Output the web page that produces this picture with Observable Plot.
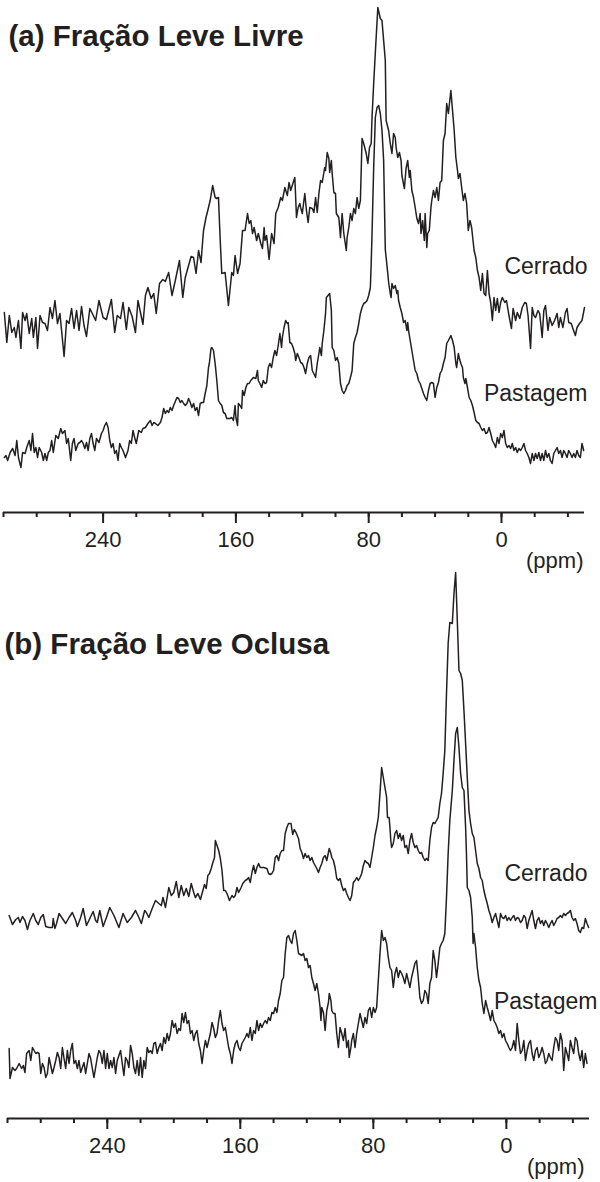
<!DOCTYPE html>
<html>
<head>
<meta charset="utf-8">
<script src="https://cdn.jsdelivr.net/npm/d3@7"></script>
<script src="https://cdn.jsdelivr.net/npm/@observablehq/plot@0.6"></script>
<style>
  html, body { margin: 0; padding: 0; background: #fff; }
  #chart { width: 600px; }
  #chart svg { display: block; }
</style>
</head>
<body>
<div id="chart"></div>
<script>
// ---- Data: [chemical shift (ppm), stacked intensity (a.u.)] ----
const aCerrado = [[299.5,200],[298,170],[296.5,197],[295,180],[293.5,185],[292.5,175],[291,192],[289.5,164],[288.5,200],[287,192],[286,199],[284.5,179],[283,194],[282,175],[280.5,195],[279.5,164],[278,197],[276.5,190],[275,189],[273.5,182],[272,205],[270.5,194],[269,212],[267.5,189],[266,199],[263.5,156],[262,192],[260.5,189],[259,204],[257.5,184],[256,202],[254.5,182],[253,206],[251.5,187],[250,176],[248,204],[246.5,199],[244.5,192],[242.5,212],[240,195],[238,193],[235,213],[233,180],[231.5,197],[229.5,194],[228,210],[226,183],[224.5,205],[222.5,196],[220.5,180],[219,212],[217.5,200],[216,188],[214.5,217],[213,225],[211,214],[209.5,219],[208,199],[206,229],[204,233],[202.5,231],[200.5,240],[198.5,217],[196.5,232],[194,252],[192,215],[190.5,235],[188.5,247],[187,256],[185.5,255],[184,239],[182.5,262],[181,250],[180,272],[179.5,282],[178,295],[176.5,305],[175.5,312],[174,327],[172.5,315],[171.5,314],[170.5,315],[169.5,274],[168.5,239],[166.5,240],[164.5,207],[162.5,240],[161.5,237],[160.5,257],[159,239],[157.5,249],[156,282],[154.5,282],[153,299],[152,289],[151,292],[150,279],[149,285],[147.5,272],[146.5,279],[145,269],[144,264],[143,285],[142.5,272],[141.5,277],[140,253],[138.5,279],[137,269],[136,299],[134.5,305],[133,315],[132,312],[130.5,325],[129,317],[128,330],[127,322],[125.5,330],[124.5,335],[123.5,295],[122.5,305],[121.5,309],[121,305],[120,299],[118.5,319],[117.5,302],[116.5,290],[115.5,305],[114,304],[113,300],[112,315],[111,300],[110,319],[109,332],[108,330],[106.5,345],[106,342],[105,360],[104,354],[103.5,340],[102.5,352],[102,339],[101,320],[100,319],[99.5,299],[98,295],[97,275],[96,299],[95,279],[93.5,262],[93,275],[92,285],[91,299],[90,292],[89,304],[88,299],[87,315],[86,304],[85,312],[84,374],[83,369],[81.5,359],[80.5,349],[79.5,365],[78.5,369],[78,395],[77,429],[76,460],[74.5,505],[73,494],[72,492],[71,472],[70,452],[69.5,392],[68,382],[67,369],[66,359],[65,379],[64,375],[63.5,365],[62.5,355],[61.5,360],[60.5,352],[60,337],[58.5,324],[57.5,344],[56.5,352],[55.5,335],[55,342],[54,322],[53,315],[52,305],[51,294],[50,289],[49,299],[48.5,279],[47.5,292],[46.5,272],[46,299],[45,265],[44.5,279],[43.5,282],[42.5,305],[42,312],[41,322],[40,315],[39,325],[38,312],[37,330],[36,332],[35,372],[34,379],[33,409],[32,399],[30.5,422],[29.5,402],[28.5,382],[27.5,355],[26.5,342],[26,334],[25,339],[24,325],[23,312],[22,319],[21,309],[20,282],[19,292],[18,285],[16.5,262],[15.5,255],[14.5,242],[13.5,235],[12.5,222],[11.5,239],[10.5,219],[9.5,217],[8.5,242],[7.5,219],[6.5,210],[5.5,192],[4.5,215],[3.5,202],[2.5,214],[1.5,200],[0.5,210],[-0.5,215],[-2,210],[-3,212],[-4.5,197],[-6,184],[-7,204],[-8.5,192],[-9.5,200],[-11,194],[-12.5,205],[-14,210],[-15,209],[-16,197],[-17.5,164],[-18.5,205],[-19.5,197],[-20.5,195],[-22,202],[-23,199],[-24.5,175],[-25.5,202],[-26.5,207],[-28,182],[-29,195],[-30.5,187],[-32,192],[-33.5,199],[-34.5,185],[-35.5,195],[-37,185],[-38.5,200],[-39.5,204],[-40.5,190],[-42,189],[-43,184],[-44.5,177],[-45.5,185],[-47,189],[-48.5,192],[-50,205]];

const aPastagem = [[299.5,55],[298.5,57],[297.5,52],[296,60],[294.5,64],[293,57],[292,72],[291,55],[289.5,45],[288.5,60],[287,59],[286,65],[284.5,72],[283.5,62],[282.5,79],[281.5,60],[280.5,65],[279.5,55],[278.5,65],[277,60],[276,52],[275,59],[274,52],[273,60],[272,62],[271,72],[270,60],[268.5,77],[267,74],[265.5,84],[264.5,79],[263,82],[262,69],[261,74],[259.5,52],[258.5,69],[257.5,74],[256.5,62],[255,69],[254,70],[253,72],[252,69],[251,64],[250,70],[249,62],[248,74],[247,79],[246,69],[245,62],[244,74],[242.5,70],[241,79],[240,82],[239,87],[238,90],[237,85],[236,72],[235,65],[234,69],[233,59],[232,62],[231,52],[230,69],[229,65],[228,62],[226.5,55],[225,62],[224,72],[223,69],[222,82],[221,75],[220,69],[218.5,82],[217,80],[216,84],[214.5,85],[213,89],[211.5,92],[210.5,87],[209.5,90],[208.5,89],[207,87],[205.5,90],[204.5,95],[203.5,104],[202.5,99],[201.5,102],[200.5,100],[199.5,105],[198.5,102],[197.5,107],[195.5,115],[194.5,114],[193.5,110],[192.5,112],[191.5,109],[190.5,107],[189.5,109],[188.5,114],[187.5,110],[186.5,105],[185.5,109],[184.5,102],[183.5,105],[182.5,97],[181.5,109],[180.5,110],[179.5,110],[178.5,119],[177.5,127],[176.5,145],[176,149],[175,164],[174.5,165],[173.5,162],[172.5,149],[171.5,132],[170.5,112],[169.5,109],[168.5,107],[167.5,100],[166.5,99],[165.5,94],[163.5,94],[162.5,95],[161.5,92],[160.5,107],[160,95],[159,87],[158.5,109],[157.5,107],[156.5,104],[156,122],[155,117],[154,125],[153,129],[152,129],[151,132],[149.5,135],[148,134],[147,142],[146.5,132],[145.5,129],[144.5,125],[143.5,132],[142.5,129],[141.5,130],[140.5,145],[139.5,149],[138.5,145],[137.5,155],[136.5,162],[135.5,157],[134.5,167],[133.5,179],[132.5,165],[132,175],[131,185],[130,192],[129,189],[128.5,190],[127.5,170],[126.5,169],[125.5,165],[124.5,159],[124,152],[123,159],[122,155],[121,150],[120,149],[119,145],[118,139],[117,149],[116,155],[115,157],[114,142],[112.5,137],[112,135],[111,149],[110,159],[109.5,165],[108.5,157],[108,169],[107,182],[106,199],[105.5,215],[104.5,217],[103.5,219],[102.5,202],[102,165],[101,162],[100,152],[99,155],[98,149],[97,129],[96,122],[95,119],[94,122],[93,127],[92,129],[91,135],[90,142],[89,169],[88,175],[87,180],[86,189],[85,199],[84,205],[83,209],[82,210],[81,212],[80,217],[79,225],[78.5,249],[78,278],[77,345],[76,395],[75,405],[74,407],[73,399],[72,382],[71,352],[70,263],[69.5,255],[68.5,239],[68,230],[67,219],[66.5,215],[66,229],[65,224],[64,227],[63,219],[62.5,222],[62,212],[61,205],[60,199],[59,190],[58,192],[57,182],[56.5,190],[56,182],[55,172],[54,162],[53,152],[52,142],[51,139],[50,132],[49,129],[48,124],[47,119],[46,115],[45,112],[44,122],[43,129],[42,130],[41,129],[40,115],[39,125],[38,130],[37,139],[36,142],[35,149],[34,155],[33,169],[32,172],[30.5,177],[29.5,172],[28.5,165],[27.5,149],[27,145],[26,159],[25.5,155],[24.5,149],[23.5,145],[23,135],[22,129],[21.5,134],[20.5,125],[19.5,115],[18.5,112],[17.5,107],[16.5,100],[15.5,92],[14.5,90],[13.5,89],[12.5,85],[11.5,82],[10.5,84],[9.5,79],[8.5,80],[7.5,85],[6.5,79],[5.5,72],[4.5,69],[3.5,65],[2.5,75],[1.5,69],[0.5,79],[-0.5,75],[-1.5,82],[-2.5,69],[-3.5,65],[-4.5,67],[-5.5,64],[-6.5,69],[-7.5,62],[-8.5,65],[-9.5,60],[-10.5,64],[-11.5,62],[-12.5,65],[-13.5,69],[-14.5,62],[-15.5,59],[-16.5,55],[-17.5,49],[-18.5,59],[-19.5,52],[-20.5,59],[-21.5,54],[-22.5,60],[-23.5,52],[-24.5,59],[-25.5,52],[-26.5,62],[-27.5,55],[-28.5,59],[-29.5,52],[-30.5,49],[-31.5,59],[-32.5,62],[-33.5,65],[-34.5,59],[-35.5,62],[-36.5,55],[-37.5,62],[-38.5,59],[-39.5,55],[-40.5,62],[-41.5,59],[-42.5,55],[-43.5,59],[-44.5,55],[-45.5,62],[-46.5,57],[-47.5,55],[-48.5,69],[-49.5,62]];

const bCerrado = [[299,203],[297,194],[295,199],[293.5,201],[292.5,196],[291,202],[289.5,198],[288,189],[286.5,198],[284.5,205],[283,198],[281.5,194],[280,201],[278.5,204],[277,192],[275,191],[273,191],[272.5,200],[271.5,190],[270.5,195],[269,205],[267,200],[265,195],[263,201],[261,206],[259,198],[258,192],[256,201],[254.5,210],[252.5,193],[250.5,200],[248.5,207],[247,198],[246,196],[244.5,208],[242.5,192],[240.5,201],[238.5,211],[236,203],[233,191],[230.5,205],[228,196],[225.5,201],[223,208],[221,201],[219.5,195],[217.5,208],[216.5,206],[215,201],[213,210],[211,218],[209,215],[207.5,213],[206.5,221],[205,211],[203,231],[201.5,223],[200,226],[198.5,237],[197,221],[195.5,233],[194,223],[192.5,230],[191,222],[189.5,235],[188,226],[187,221],[185.5,225],[184,219],[183,225],[181.5,234],[180.5,230],[179.5,243],[178.5,245],[177.5,250],[176.5,256],[175.5,261],[175,278],[174,273],[173,268],[172,260],[171,248],[170,228],[169,228],[168,225],[166.5,218],[165,223],[164,221],[163,223],[162,231],[161,226],[159.5,231],[158.5,235],[157,238],[156,239],[155,241],[154,236],[153,246],[152,253],[151,245],[150,251],[149,255],[148,251],[146,251],[144,250],[143,245],[142,244],[141,245],[140,248],[139,261],[138,263],[137,258],[136,265],[135,268],[134,268],[133,285],[132,291],[131,295],[129.5,295],[128.5,284],[127.5,289],[126.5,286],[125,280],[124,270],[123,266],[122,260],[121,265],[120,261],[119,263],[118,258],[117,261],[116,256],[115,253],[114,250],[113,246],[112,251],[111,255],[110,261],[109,263],[108,258],[107,266],[106.5,270],[105.5,265],[105,261],[104,258],[103,251],[102,240],[101,238],[100,240],[99,233],[98,228],[97,230],[96,225],[95,221],[94,218],[93,223],[92,236],[91,238],[90,241],[89,238],[88,241],[87,245],[86,253],[85,258],[84,256],[83,255],[82,251],[81,261],[80,271],[79,283],[78,291],[77,301],[76,325],[75,351],[74,341],[73,331],[72,321],[71.5,301],[70.5,301],[70,291],[69.5,278],[69,271],[68,275],[67,285],[66,288],[65,280],[64,285],[63,278],[62,283],[61,271],[60,273],[59,265],[58,278],[57,285],[56,276],[55,271],[54,273],[53,268],[52,265],[51,266],[50,261],[49,258],[48,260],[47,258],[46,278],[45,291],[44,296],[43,295],[42,298],[41,301],[40,315],[39,325],[38,345],[37,368],[36,425],[35,475],[34,496],[32.5,495],[31.5,525],[30.5,546],[29.5,498],[28.5,448],[27.5,445],[26.5,438],[25.5,408],[24.5,375],[23.5,341],[22.5,308],[21.5,295],[20.5,285],[19.5,281],[18.5,268],[17.5,255],[16.5,250],[15.5,241],[14.5,238],[13.5,228],[12.5,221],[11.5,215],[10.5,208],[9.5,203],[8.5,196],[7.5,201],[6.5,205],[5.5,198],[4.5,191],[3.5,205],[2.5,201],[1.5,200],[0.5,203],[-0.5,198],[-1.5,201],[-2.5,198],[-3.5,201],[-4.5,203],[-5.5,198],[-6.5,201],[-7.5,200],[-8.5,196],[-9.5,198],[-10.5,203],[-11.5,201],[-12.5,190],[-13.5,198],[-14.5,203],[-15.5,208],[-16.5,198],[-17.5,190],[-18.5,198],[-19.5,201],[-20.5,195],[-21.5,198],[-22.5,193],[-23.5,198],[-24.5,195],[-25.5,191],[-26.5,195],[-27.5,198],[-28.5,193],[-29.5,196],[-30.5,200],[-31.5,201],[-32.5,203],[-33.5,201],[-34.5,205],[-35.5,203],[-36.5,205],[-37.5,206],[-38.5,208],[-39.5,201],[-40.5,198],[-41.5,200],[-42.5,195],[-43.5,188],[-44.5,186],[-45.5,191],[-46.5,190],[-47.5,200],[-48.5,195],[-49.5,191]];

const bPastagem = [[299,70],[298.5,40],[297,51],[295.5,48],[294.5,50],[293,55],[291.5,50],[290.5,53],[289.5,46],[288.5,65],[287,68],[286,58],[285,71],[284,68],[283,65],[282,66],[281,65],[280,45],[279,55],[278,51],[277,41],[276,45],[275,61],[274,53],[273,45],[272,51],[271,58],[270,66],[269,61],[268,50],[267,71],[266,60],[265,50],[264,68],[263,55],[262,68],[261,75],[260,55],[259,58],[258,50],[257,58],[256,46],[255,51],[254,56],[253,45],[252,55],[251,65],[250,60],[249,50],[248,41],[247,51],[246,61],[245,68],[244,65],[243,55],[242,68],[241,50],[240,65],[239,50],[238,58],[237,51],[236,61],[235,45],[234,58],[233,63],[232,68],[231,55],[230,43],[229,61],[228,58],[227,51],[226,73],[225,65],[224,51],[223,45],[222,58],[221,43],[220,61],[219,41],[218,58],[217,50],[216,71],[215,66],[214,68],[213,65],[212,75],[211,76],[210,65],[209,71],[208,75],[207,68],[206,81],[205,75],[204,85],[203,78],[202,85],[201,98],[200,91],[199,95],[198,85],[197,90],[196,88],[195,105],[194,96],[193,106],[192,95],[191,98],[190,85],[189,88],[188,78],[187,85],[186,88],[185,75],[184,68],[183,55],[182,68],[181,78],[180,71],[179,78],[178,85],[177,96],[176,90],[175,81],[174,85],[173,98],[172,108],[171,95],[170,88],[169,91],[168,81],[167,71],[166,65],[165,55],[164,68],[163,75],[162,78],[161,71],[160,68],[159,75],[158,78],[157,81],[156,85],[155,81],[154,91],[153,78],[152,88],[151,85],[150,98],[149,88],[148,95],[147,91],[146,95],[145,98],[144,95],[143,101],[142,98],[141,106],[140,105],[139,111],[138,106],[137,118],[136,125],[135,138],[134,141],[133,165],[132,181],[131,183],[130,178],[129,175],[128,185],[127,188],[126,178],[125,165],[124,164],[123,163],[122,165],[121,158],[120,160],[119,151],[118,153],[117,141],[116,135],[115,128],[114,135],[113,125],[112,111],[111.5,98],[111,111],[110,106],[109,88],[108,108],[107,116],[106.5,125],[105.5,118],[105,108],[104,105],[103,105],[102,85],[101,71],[100,91],[99,85],[98,78],[97,90],[96,71],[95,78],[94.5,61],[93.5,71],[93,78],[92,85],[91,71],[90,85],[89,95],[88,105],[87,98],[86,91],[85,101],[84,95],[83,108],[82,111],[81,101],[80,111],[79,106],[78,111],[77,138],[76,165],[75,188],[74,178],[73,181],[72,175],[71,161],[70,151],[69,148],[68,131],[67,145],[66,151],[65,141],[64,148],[63,145],[62,141],[61,135],[60,145],[59,138],[58,131],[57,141],[56,148],[55,155],[54,158],[53,141],[52,121],[51,115],[50,118],[49,128],[48,125],[47,115],[46,135],[45,141],[44,168],[43,158],[42,141],[41,155],[40,171],[39,175],[38,178],[37,185],[36,221],[35,265],[34,298],[32.5,328],[31.5,358],[30.5,385],[29.5,391],[28.5,371],[27.5,345],[26.5,331],[25.5,328],[24.5,291],[24,265],[23.5,231],[22.5,228],[21.5,221],[20.5,201],[20,175],[19.5,185],[18.5,171],[17.5,151],[16.5,138],[15.5,131],[14.5,115],[13.5,105],[12.5,118],[11.5,111],[10.5,105],[9.5,98],[8.5,108],[7.5,98],[6.5,95],[5.5,91],[4.5,85],[3.5,88],[2.5,81],[1.5,85],[0.5,78],[-0.5,75],[-1.5,71],[-2.5,68],[-3.5,71],[-4.5,78],[-5.5,68],[-6.5,95],[-7.5,78],[-8.5,65],[-9.5,68],[-10.5,78],[-11.5,58],[-12.5,68],[-13.5,75],[-14.5,78],[-15.5,65],[-16.5,58],[-17.5,68],[-18.5,71],[-19.5,61],[-20.5,65],[-21.5,71],[-22.5,65],[-23.5,55],[-24.5,58],[-25.5,65],[-26.5,61],[-27.5,58],[-28.5,71],[-29.5,81],[-30.5,78],[-31.5,68],[-32.5,85],[-33.5,78],[-34.5,48],[-35.5,71],[-36.5,65],[-37.5,58],[-38.5,78],[-39.5,71],[-40.5,65],[-41.5,81],[-42.5,78],[-43.5,65],[-44.5,58],[-45.5,68],[-46.5,51],[-47.5,65],[-48.5,55]];

const minorTicks = [300, 280, 260, 240, 220, 200, 180, 160, 140, 120, 100, 80, 60, 40, 20, 0, -20, -40];
const majorTicks = [240, 160, 80, 0];
const seriesNames = ["Cerrado", "Pastagem"];
const panelTitles = ["(a) Fração Leve Livre", "(b) Fração Leve Oclusa"];
const axisUnit = "(ppm)";

// ---- Drawing ----
const INK = "#231f20";
const FONT = "'Liberation Sans', Arial, Helvetica, sans-serif";

function toRows(pairs) { return pairs.map(([ppm, v]) => ({ppm, v})); }

function panel(cfg) {
  return Plot.plot({
    width: 600,
    height: 591,
    marginLeft: cfg.ml,
    marginRight: cfg.mr,
    marginTop: 0,
    marginBottom: cfg.mb,
    style: {fontFamily: FONT, fontSize: "22px", color: INK, background: "#fff", overflow: "visible"},
    x: {domain: [300, -50]},
    y: {domain: [0, cfg.ymax], axis: null},
    marks: [
      Plot.line(toRows(cfg.upper), {x: "ppm", y: "v", stroke: INK, strokeWidth: 1.5}),
      Plot.line(toRows(cfg.lower), {x: "ppm", y: "v", stroke: INK, strokeWidth: 1.5}),
      Plot.ruleY([0], {stroke: INK, strokeWidth: 2}),
      Plot.axisX(minorTicks, {tickSize: 5, tickFormat: () => "", label: null, stroke: INK, strokeWidth: 2}),
      Plot.axisX(majorTicks, {tickSize: 11, tickPadding: 8, tickFormat: d => String(d), label: null, fontSize: 22, stroke: INK, strokeWidth: 2, fill: INK}),
      Plot.text([cfg.title], {text: d => d, frameAnchor: "top-left", dx: cfg.titleDx, dy: cfg.titleDy, textAnchor: "start", lineAnchor: "bottom", fontSize: 29.5, fontWeight: "bold", fill: INK}),
      Plot.text([seriesNames[0]], {text: d => d, frameAnchor: "top-right", dx: cfg.c.dx, dy: cfg.c.dy, textAnchor: "end", lineAnchor: "bottom", fontSize: 23, fill: INK}),
      Plot.text([seriesNames[1]], {text: d => d, frameAnchor: "top-right", dx: cfg.p.dx, dy: cfg.p.dy, textAnchor: "end", lineAnchor: "bottom", fontSize: 23, fill: INK}),
      Plot.text([axisUnit], {text: d => d, frameAnchor: "bottom-right", dx: cfg.unitDx, dy: 55, textAnchor: "end", lineAnchor: "bottom", fontSize: 22, fill: INK})
    ]
  });
}

const chart = document.getElementById("chart");
chart.append(panel({
  ml: 3, mr: 16, mb: 79, ymax: 512,
  upper: aCerrado, lower: aPastagem,
  title: panelTitles[0], titleDx: 5, titleDy: 45,
  c: {dx: 3, dy: 273}, p: {dx: 3, dy: 400},
  unitDx: -1
}));
chart.append(panel({
  ml: 7, mr: 11, mb: 64, ymax: 527,
  upper: bCerrado, lower: bPastagem,
  title: panelTitles[1], titleDx: -3, titleDy: 62,
  c: {dx: -2, dy: 289}, p: {dx: 8, dy: 417},
  unitDx: -5
}));
</script>
</body>
</html>
